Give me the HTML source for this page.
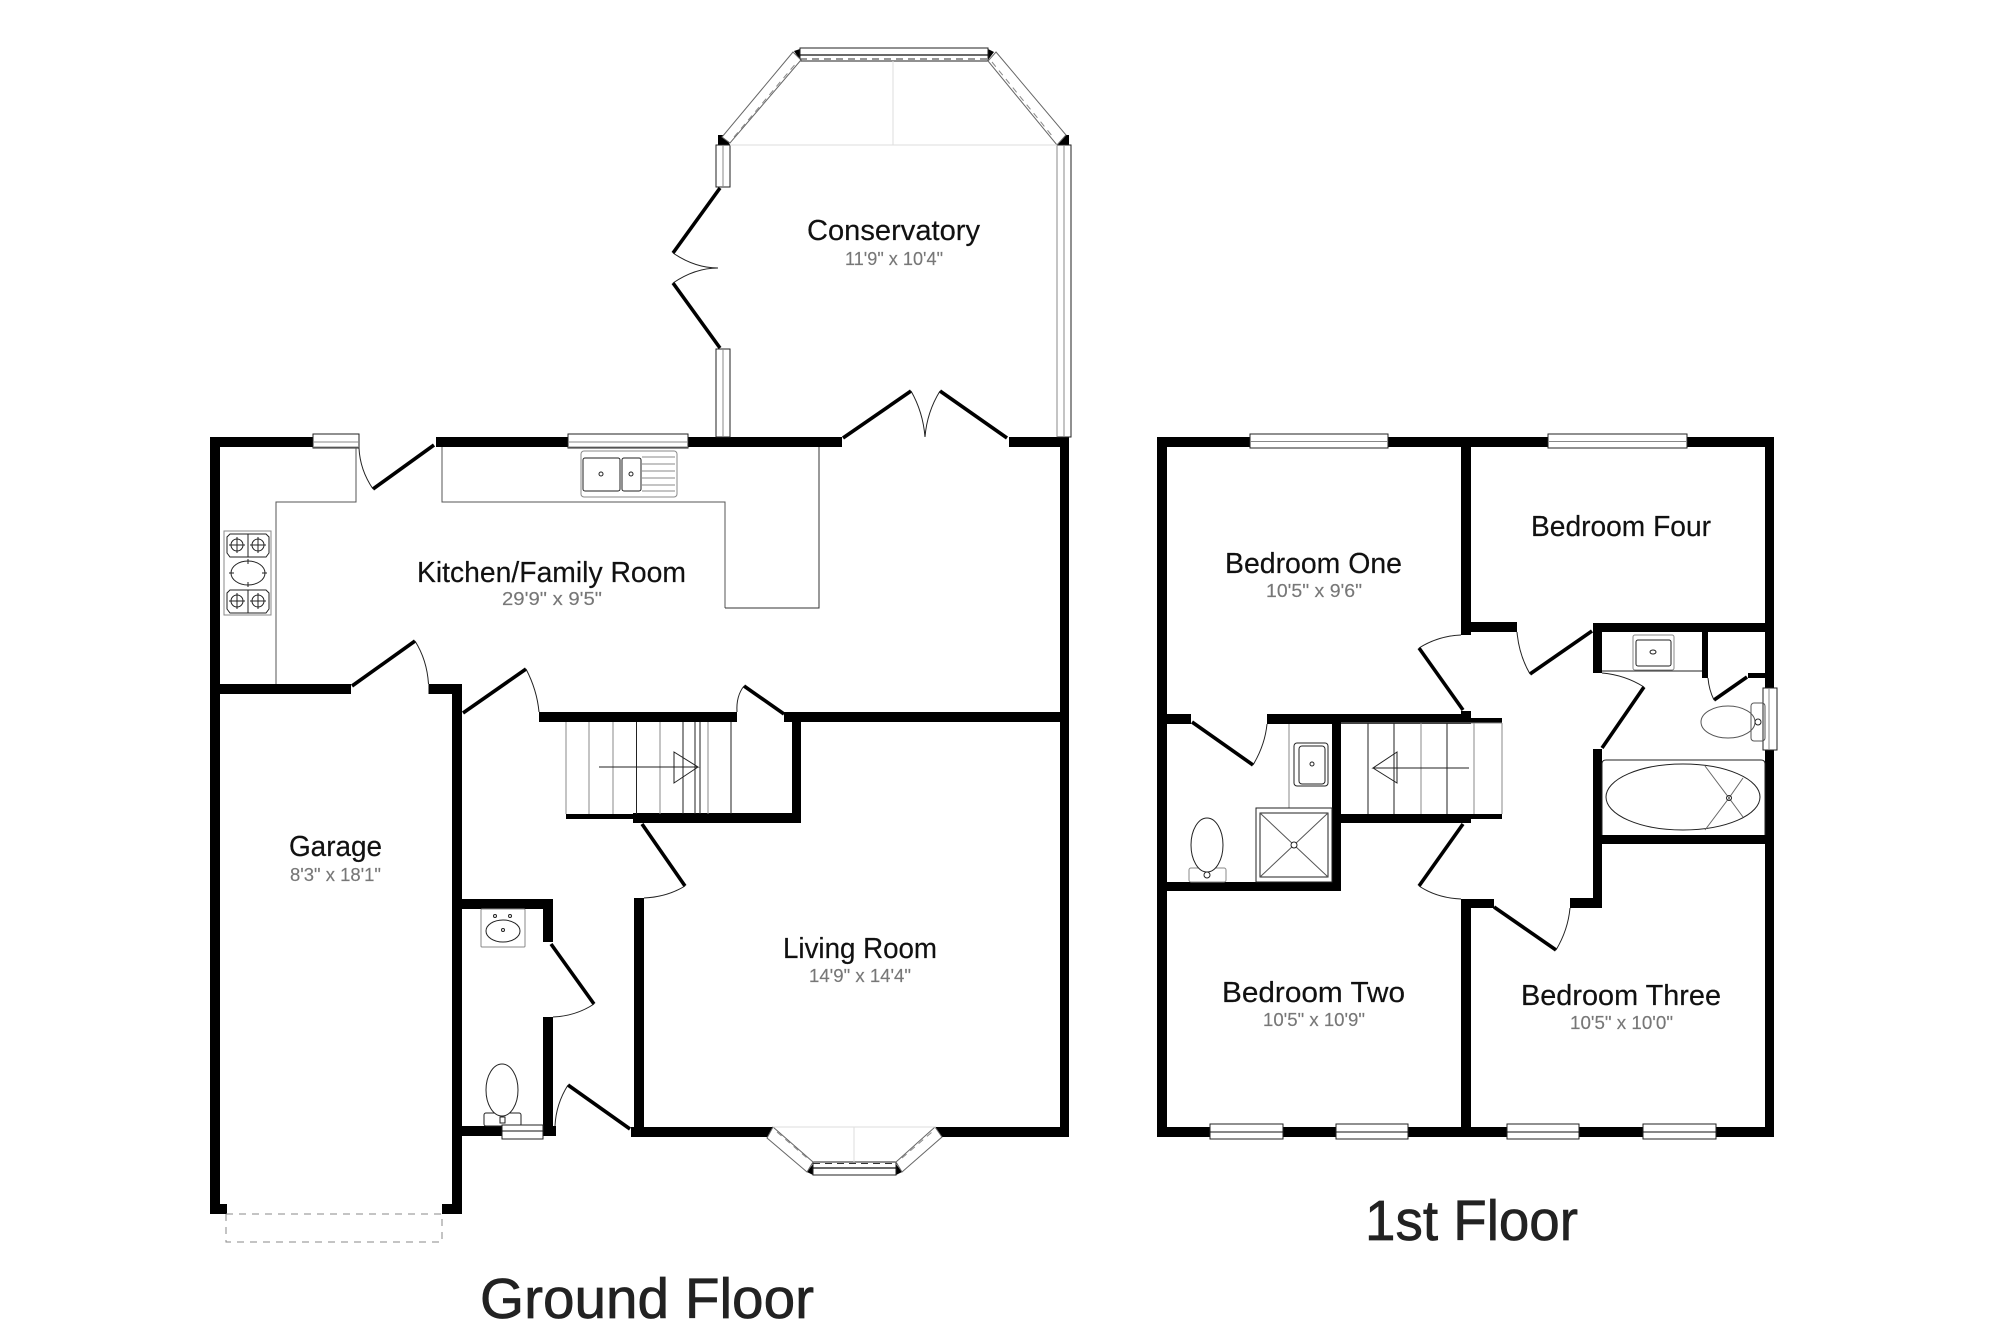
<!DOCTYPE html>
<html><head><meta charset="utf-8"><title>Floor Plan</title>
<style>html,body{margin:0;padding:0;background:#fff}svg{display:block}
text{font-family:"Liberation Sans",sans-serif;text-anchor:start}
.n{font-size:29px;fill:#111;stroke:#111;stroke-width:.2}.d{font-size:18px;fill:#777;stroke:#777;stroke-width:.15}.f{font-size:57px;fill:#222;stroke:#222;stroke-width:.7}
.w{fill:#000;stroke:none}.l{stroke:#000;stroke-width:3.6;fill:none}.a{stroke:#222;stroke-width:1;fill:none}
.g{stroke:#888;stroke-width:1;fill:none}.c{stroke:#555;stroke-width:1;fill:none}.lg{stroke:#ddd;stroke-width:1;fill:none}.b{stroke:#222;stroke-width:1;fill:#fff}.bl{stroke:#666;stroke-width:1;fill:#fff}.t{stroke:#222;stroke-width:1;fill:none}
.dash{stroke:#888;stroke-width:1;fill:none;stroke-dasharray:7 6}</style></head><body>
<svg width="2000" height="1333" viewBox="0 0 2000 1333" xmlns="http://www.w3.org/2000/svg">
<rect width="2000" height="1333" fill="#fff"/>
<!-- Ground floor walls -->
<g class="w">
<rect x="210" y="437" width="103" height="10"/><rect x="436" y="437" width="406" height="10"/><rect x="1009" y="437" width="60" height="10"/>
<rect x="210" y="437" width="10" height="777"/><rect x="1060" y="437" width="9" height="700"/>
<rect x="210" y="684" width="141" height="10"/><rect x="428.500" y="684" width="33.500" height="10"/>
<rect x="452" y="684" width="10" height="530"/>
<rect x="210" y="1204" width="17" height="10"/><rect x="442" y="1204" width="20" height="10"/>
<rect x="539" y="712" width="198" height="10"/><rect x="784" y="712" width="285" height="10"/>
<rect x="792" y="712" width="9" height="111"/><rect x="633" y="813" width="168" height="10"/><rect x="566" y="814" width="67" height="5"/>
<rect x="462" y="899" width="91" height="10"/><rect x="543" y="899" width="10" height="43"/><rect x="543" y="1017" width="10" height="119"/>
<rect x="462" y="1126" width="40" height="10"/><rect x="543" y="1126" width="13" height="10"/>
<rect x="634" y="898" width="10" height="239"/><rect x="631" y="1127" width="142" height="10"/><rect x="936" y="1127" width="133" height="10"/>
<!-- conservatory corners -->
<path d="M718 135H725L730 145H718Z"/><path d="M1058 145L1062 135H1069V145Z"/>
<path d="M794 51L800 49V60Z"/><path d="M988 49L994 52L988 60Z"/>
<path d="M807 1172L813 1164V1175Z"/><path d="M896 1164L902 1172L896 1175Z"/>
</g>
<!-- door leaves GF -->
<g class="l">
<path d="M434 445L373 489"/><path d="M352 686L415 641"/><path d="M463 713L526 669"/><path d="M744 686L784 714"/>
<path d="M642 824L685 886"/><path d="M551 944L594 1004"/><path d="M568 1085L630 1129"/>
<path d="M843 438L911 391"/><path d="M940 391L1007 438"/><path d="M720 188L673 253"/><path d="M673 283L720 348"/>
</g>
<g class="a">
<path d="M373 489Q360 470 359 448"/><path d="M415 641Q427 660 428.500 684"/><path d="M526 669Q537 690 539 712"/><path d="M744 686Q736 696 737 712"/>
<path d="M685 886Q667 897 644 898"/><path d="M594 1004Q576 1016 553 1017"/><path d="M568 1085Q556 1104 555 1126"/>
<path d="M911 391Q923 412 925 437"/><path d="M940 391Q927 412 925 437"/><path d="M673 253Q695 268 718 268"/><path d="M673 283Q695 268 718 268"/>
</g>
<!-- GF windows -->
<g class="b">
<rect x="313" y="434" width="46" height="14"/><rect x="568" y="434" width="120" height="14"/>
<rect x="800" y="48" width="188" height="13"/>
<rect x="716" y="145" width="14" height="42"/><rect x="716" y="349" width="14" height="88"/><rect x="1057" y="145" width="14" height="292"/>
<rect x="502" y="1125" width="41" height="14"/>
<rect x="813" y="1162" width="83" height="13"/>
</g>
<g class="bl">
<path d="M722 137L793 52L801 60L730 143Z"/><path d="M996 52L1066 135L1057 145L988 61Z"/>
<path d="M773 1127L813 1162L807 1172L767 1138Z"/><path d="M896 1162L935 1127L942 1137L902 1172Z"/>
</g>
<g class="g">
<path d="M313 442H359M313 447H359M568 442H688M568 447H688"/>
<path d="M723 145V187M723 349V437M1064 145V437M1057 145V437"/>
</g>
<path d="M800 55H988M502 1131H543M813 1168H896" stroke="#111" stroke-width="1.200" fill="none"/>
<path d="M800 59H988M813 1163.500H896" stroke="#333" stroke-width="1" stroke-dasharray="7 5" fill="none"/>
<path d="M734 137L797 62M992 62L1053 137M777 1132L807 1158M902 1158L932 1132" stroke="#888" stroke-width="1" stroke-dasharray="6 5" fill="none"/>
<path d="M730 145H1057M893 61V145M773 1127H936M854 1127V1162" class="lg"/>
<!-- counters -->
<g class="c">
<path d="M356 448V502H276V684"/><path d="M442 447V502H725V608"/>
</g>
<path d="M725 608H819V447" stroke="#333" fill="none"/>
<!-- sink -->
<rect x="581" y="451" width="96" height="46" rx="3" class="g"/>
<rect x="583" y="458" width="37" height="33" rx="2" class="t"/><rect x="622" y="458" width="19" height="33" rx="2" class="t"/>
<circle cx="601" cy="474" r="2" class="t"/><circle cx="631" cy="474" r="2" class="t"/>
<path d="M642 457H675M642 464H675M642 471H675M642 478H675M642 485H675M642 491H675" class="g"/>
<!-- hob -->
<rect x="224" y="531" width="47" height="84" class="g"/>
<path d="M230 534H266L269 537V553L266 557H230L227 553V537Z M248 534V557" class="t"/>
<path d="M230 590H266L269 593V609L266 613H230L227 609V593Z M248 590V613" class="t"/>
<circle cx="237" cy="545" r="6" class="t"/><circle cx="258" cy="545" r="6" class="t"/>
<circle cx="237" cy="601" r="6" class="t"/><circle cx="258" cy="601" r="6" class="t"/>
<path d="M237 537V553M229 545H245M258 537V553M250 545H266M237 593V609M229 601H245M258 593V609M250 601H266" class="t"/>
<ellipse cx="248" cy="573" rx="17" ry="12" class="t"/><path d="M248 559V564M248 582V587M229 573H234M262 573H267" class="t"/>
<!-- GF stairs -->
<path d="M566 722V814M589 722V814M613 722V814M660 722V814M708 722V814" class="g"/>
<path d="M636.500 722V814M683 722V814M695 722V814M700 722V814M731 722V814" class="t"/>
<path d="M599 767H698L674 752V783L698 767" class="t"/>
<!-- cloakroom -->
<rect x="481" y="909" width="44" height="38" rx="1" class="g"/>
<ellipse cx="503" cy="931" rx="17" ry="11" class="t"/><circle cx="495" cy="916" r="1.500" class="t"/><circle cx="510" cy="916" r="1.500" class="t"/><circle cx="503" cy="930" r="1.500" class="t"/>
<rect x="484" y="1113" width="37" height="13" rx="2" class="b"/><ellipse cx="502" cy="1090" rx="16" ry="26" class="b"/><rect x="500" y="1117" width="5" height="6" class="t"/>
<rect x="502" y="1125" width="41" height="14" class="b"/><path d="M502 1131H543" stroke="#111" fill="none"/>
<!-- garage door -->
<path d="M226 1214H442V1242H226V1214" class="dash"/>
<!-- First floor walls -->
<g class="w">
<rect x="1157" y="437" width="10" height="700"/><rect x="1157" y="437" width="93" height="10"/><rect x="1388" y="437" width="160" height="10"/><rect x="1687" y="437" width="87" height="10"/>
<rect x="1765" y="437" width="9" height="700"/><rect x="1157" y="1127" width="617" height="10"/>
<rect x="1461" y="437" width="10" height="198"/><rect x="1461" y="622" width="56" height="10"/>
<rect x="1157" y="714" width="34" height="10"/><rect x="1267" y="714" width="204" height="10"/><rect x="1461" y="711" width="10" height="13"/><rect x="1471" y="718" width="31" height="5"/>
<rect x="1332" y="724" width="9" height="167"/><rect x="1157" y="882" width="184" height="9"/>
<rect x="1341" y="814" width="130" height="9"/><rect x="1471" y="814" width="31" height="5"/>
<rect x="1461" y="899" width="33" height="9"/><rect x="1461" y="899" width="10" height="238"/>
<rect x="1570" y="898" width="32" height="10"/><rect x="1593" y="749" width="9" height="159"/>
<rect x="1593" y="623" width="172" height="9"/><rect x="1593" y="623" width="9" height="50"/>
<rect x="1602" y="835" width="163" height="9"/><rect x="1702" y="632" width="6" height="46"/><rect x="1748" y="673" width="17" height="5"/>
</g>
<g class="l">
<path d="M1419 648L1463 710"/><path d="M1192 722L1253 765"/><path d="M1463 824L1419 886"/><path d="M1494 907L1556 950"/>
<path d="M1530 674L1592 631"/><path d="M1644 687L1602 748"/><path d="M1714 700L1747 677"/>
</g>
<g class="a">
<path d="M1419 648Q1438 636 1461 635"/><path d="M1253 765Q1265 745 1267 724"/><path d="M1419 886Q1437 898 1461 899"/>
<path d="M1556 950Q1568 930 1570 908"/><path d="M1530 674Q1519 655 1517 632"/><path d="M1644 687Q1625 675 1602 673"/><path d="M1714 700Q1709 690 1708 678"/>
</g>
<!-- 1F windows -->
<g class="b">
<rect x="1250" y="434" width="138" height="14"/><rect x="1548" y="434" width="139" height="14"/>
<rect x="1210" y="1124" width="73" height="15"/><rect x="1336" y="1124" width="72" height="15"/><rect x="1507" y="1124" width="72" height="15"/><rect x="1643" y="1124" width="73" height="15"/>
<rect x="1763" y="688" width="14" height="62"/>
</g>
<path d="M1250 441.500H1388M1548 441.500H1687M1769 688V750" stroke="#888" fill="none"/>
<path d="M1210 1132H1283M1336 1132H1408M1507 1132H1579M1643 1132H1716" stroke="#111" fill="none"/>
<!-- ensuite -->
<path d="M1289 724V808H1332" class="g"/>
<rect x="1294" y="743" width="34" height="43" rx="3" class="t"/><rect x="1299" y="746" width="26" height="38" rx="3" class="t"/><circle cx="1312" cy="764" r="2" class="t"/>
<rect x="1256" y="808" width="76" height="74" class="t"/><rect x="1260" y="813" width="68" height="64" class="t"/>
<path d="M1260 813L1328 877M1328 813L1260 877" stroke="#555" fill="none"/><circle cx="1294" cy="845" r="3" class="b"/>
<rect x="1189" y="868" width="37" height="14" rx="2" class="g"/><ellipse cx="1207" cy="845" rx="16" ry="27" class="b"/><circle cx="1207" cy="875" r="3" class="b"/>
<!-- 1F stairs -->
<path d="M1421 723V814M1474 723V814M1502 723V814M1341 723H1502" class="g"/>
<path d="M1368 723V814M1394 723V814M1447 723V814" class="t"/>
<path d="M1469 768H1373L1397 752V783L1373 768" class="t"/>
<!-- family bathroom -->
<path d="M1602 671H1702" class="t"/>
<rect x="1633" y="635" width="41" height="35" rx="2" class="g"/><rect x="1636" y="640" width="35" height="26" rx="2" class="t"/><ellipse cx="1653" cy="652" rx="3" ry="2" class="t"/>
<rect x="1751" y="703" width="14" height="38" rx="3" class="c"/><ellipse cx="1728" cy="722" rx="27" ry="16" class="c"/><circle cx="1758" cy="722" r="3" class="t"/>
<path d="M1602 835V764Q1602 760 1606 760H1761Q1765 760 1765 764V835" class="t"/>
<ellipse cx="1683" cy="797" rx="77" ry="33" class="t"/>
<path d="M1705 766L1729 798L1705 830M1743 778L1729 798L1743 817" stroke="#666" fill="none"/><circle cx="1729" cy="798" r="2.500" class="t"/>
<!-- Labels -->
<text class="n" x="807" y="240" textLength="173" lengthAdjust="spacingAndGlyphs">Conservatory</text>
<text class="d" x="845" y="265" textLength="98" lengthAdjust="spacingAndGlyphs">11'9" x 10'4"</text>
<text class="n" x="417" y="582" textLength="269" lengthAdjust="spacingAndGlyphs">Kitchen/Family Room</text>
<text class="d" x="502" y="605" textLength="100" lengthAdjust="spacingAndGlyphs">29'9" x 9'5"</text>
<text class="n" x="289" y="856" textLength="93" lengthAdjust="spacingAndGlyphs">Garage</text>
<text class="d" x="290" y="881" textLength="91" lengthAdjust="spacingAndGlyphs">8'3" x 18'1"</text>
<text class="n" x="783" y="958" textLength="154" lengthAdjust="spacingAndGlyphs">Living Room</text>
<text class="d" x="809" y="982" textLength="102" lengthAdjust="spacingAndGlyphs">14'9" x 14'4"</text>
<text class="n" x="1225" y="573" textLength="177" lengthAdjust="spacingAndGlyphs">Bedroom One</text>
<text class="d" x="1266" y="597" textLength="96" lengthAdjust="spacingAndGlyphs">10'5" x 9'6"</text>
<text class="n" x="1531" y="536" textLength="180" lengthAdjust="spacingAndGlyphs">Bedroom Four</text>
<text class="n" x="1222" y="1002" textLength="183" lengthAdjust="spacingAndGlyphs">Bedroom Two</text>
<text class="d" x="1263" y="1026" textLength="102" lengthAdjust="spacingAndGlyphs">10'5" x 10'9"</text>
<text class="n" x="1521" y="1005" textLength="200" lengthAdjust="spacingAndGlyphs">Bedroom Three</text>
<text class="d" x="1570" y="1029" textLength="103" lengthAdjust="spacingAndGlyphs">10'5" x 10'0"</text>
<text class="f" x="480" y="1318" textLength="334" lengthAdjust="spacingAndGlyphs">Ground Floor</text>
<text class="f" x="1365" y="1240" textLength="213" lengthAdjust="spacingAndGlyphs">1st Floor</text>
</svg></body></html>
